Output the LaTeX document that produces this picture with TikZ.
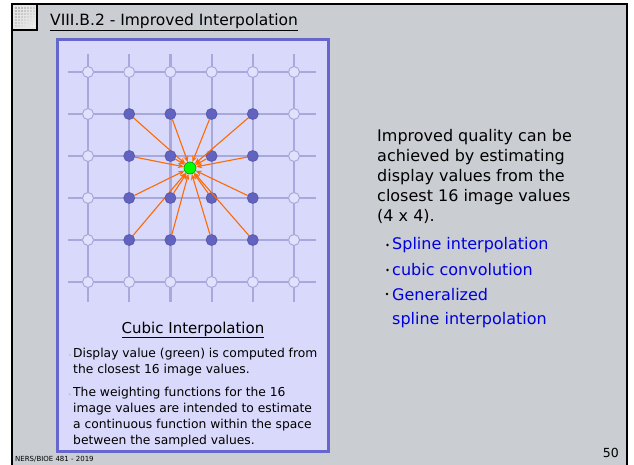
\documentclass[tikz,border=0pt]{standalone}
\usepackage{fontspec}
\setmainfont{DejaVu Sans}
\usetikzlibrary{arrows.meta,positioning}
\definecolor{slidebg}{HTML}{CACDD2}
\definecolor{panelfill}{HTML}{D9D9FB}
\definecolor{panelblue}{HTML}{6666CC}
\definecolor{gridblue}{HTML}{A8A8DC}
\definecolor{dotblue}{HTML}{6262C0}
\definecolor{arroworange}{HTML}{FF6A00}
\definecolor{itemblue}{HTML}{0000DD}

\begin{document}
\begin{tikzpicture}[x=1pt, y=-1pt,
  gridln/.style={gridblue, line width=2.2pt},
  hollow/.style={circle, inner sep=0pt, minimum size=11pt, fill=panelfill!80!white, draw=gridblue, line width=1pt},
  dot/.style={circle, inner sep=0pt, minimum size=11pt, fill=dotblue, draw=dotblue!85!black, line width=0.5pt},
  greendot/.style={circle, inner sep=0pt, minimum size=12pt, fill=green, draw=green!60!black, line width=0.6pt},
  arrow/.style={-{Stealth[length=6pt, width=5pt]}, line width=1.1pt, arroworange},
  body/.style={font=\fontsize{12.3}{16}\selectfont, align=left, inner sep=0pt, anchor=north west},
  bullet/.style={circle, inner sep=0pt, minimum size=2pt, fill=#1},
  item/.style={font=\fontsize{16}{24.5}\selectfont, text=itemblue, inner sep=0pt, anchor=west, align=left}
]
  % Slide frame
  \useasboundingbox (0,0) rectangle (634,465);
  \fill[white] (0,0) rectangle (634,465);
  \fill[slidebg] (12,4) rectangle (627,465);
  \fill[gray!20] (13,5) rectangle (36,29);
  \foreach \u in {0,...,6}
    \foreach \v in {0,...,6} {
      \pgfmathtruncatemacro{\shadeval}{max(5,60-4*(\u+\v))}
      \fill[gray!\shadeval] ({15+3*\u},{7+3*\v}) rectangle ++(2,2);
    }
  \draw[line width=1.2pt] (12,30) -- (37,30) -- (37,4);
  \draw[line width=2pt] (12,465) -- (12,4) -- (627,4) -- (627,465);

  % Title
  \node[anchor=base west, inner sep=0pt, font=\fontsize{15.5}{18}\selectfont] (title) at (50,26)
    {\underline{VIII.B.2 - Improved Interpolation}};

  % Panel
  \draw[panelblue, fill=panelfill, line width=3pt] (57,40) rectangle (328,451);

  % Sample grid
  \foreach \i in {0,...,5} {
    \draw[gridln] ({88+41.2*\i},54) -- ({88+41.2*\i},302);
    \draw[gridln] (68,{72+42*\i}) -- (316,{72+42*\i});
  }
  \foreach \i in {0,...,5}
    \foreach \j in {0,...,5}
      \node[hollow] (p-\i-\j) at ({88+41.2*\i},{72+42*\j}) {};

  % 4 x 4 neighbourhood and display point
  \node[greendot] (g) at (190,168) {};
  \foreach \i in {1,...,4}
    \foreach \j in {1,...,4} {
      \node[dot] (s-\i-\j) at (p-\i-\j) {};
      \draw[arrow] (s-\i-\j) -- (g);
    }

  % Caption
  \node[font=\fontsize{15}{18}\selectfont, inner sep=0pt] (cap) at (193,330) {\underline{Cubic Interpolation}};
  \node[body] (b1) at (73,348) {Display value (green) is computed from\\the closest 16 image values.};
  \node[body, below=11pt of b1.south west, anchor=north west] (b2)
    {The weighting functions for the 16\\image values are intended to estimate\\a continuous function within the space\\between the sampled values.};
  \node[bullet=gray!50, left=2pt of b1.north west, yshift=-7pt] (d1) {};
  \node[bullet=gray!50, left=2pt of b2.north west, yshift=-7pt] (d2) {};

  % Right-hand text
  \node[font=\fontsize{16}{20}\selectfont, align=left, inner sep=0pt, anchor=north west] (desc) at (377,129)
    {Improved quality can be\\achieved by estimating\\display values from the\\closest 16 image values\\(4 x 4).};
  \node[item] (m1) at (392,245) {Spline interpolation};
  \node[item] (m2) at (392,270) {cubic convolution};
  \node[item, anchor=north west] (m3) at (392,288) {Generalized\\spline interpolation};
  \foreach \m in {m1,m2} \node[bullet=black, minimum size=2.6pt, left=3pt of \m.west] {};
  \node[bullet=black, minimum size=2.6pt] (d3) at (387,294) {};

  % Footer
  \node[anchor=base west, inner sep=0pt, font=\fontsize{7}{8}\selectfont] (foot) at (15,461) {NERS/BIOE 481 - 2019};
  \node[anchor=base east, inner sep=0pt, font=\fontsize{12.5}{14}\selectfont] (page) at (619,457) {50};
\end{tikzpicture}
\end{document}
